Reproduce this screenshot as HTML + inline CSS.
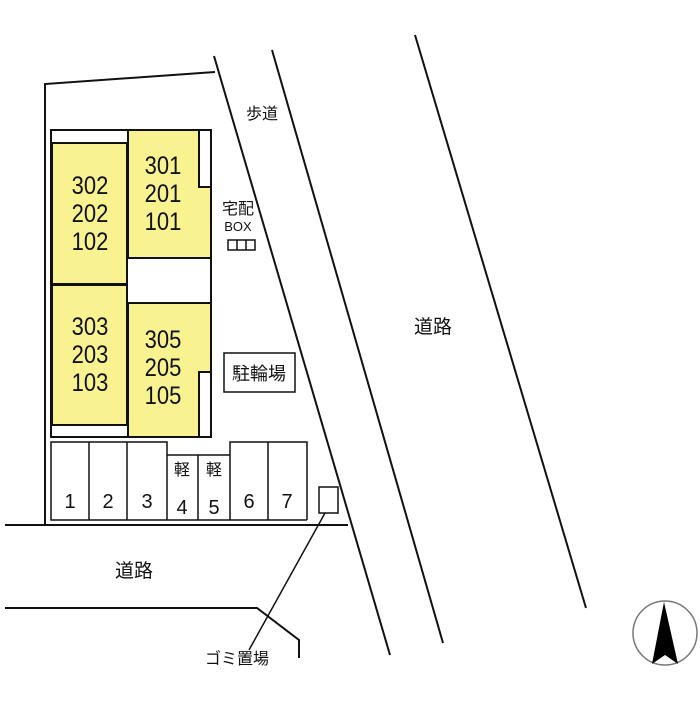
<!DOCTYPE html>
<html><head><meta charset="utf-8"><style>
body{margin:0;background:#fff}
svg text{font-family:"Liberation Sans","Noto Sans CJK JP",sans-serif;fill:#111}
</style></head><body>
<svg width="700" height="700" viewBox="0 0 700 700" xmlns="http://www.w3.org/2000/svg">
<g stroke="#111" stroke-width="2" fill="none">
<polyline points="45,525 45,84 215,72"/>
<line x1="214" y1="56" x2="390" y2="655"/>
<line x1="272" y1="50" x2="443" y2="643"/>
<line x1="415" y1="35" x2="586" y2="608"/>
<line x1="5" y1="525" x2="348" y2="525"/>
<polyline points="5,608 257,608 299,640 299,658"/>
<line x1="325" y1="513" x2="249" y2="650" stroke-width="1.5"/>
</g>
<rect x="51" y="130" width="160" height="307" fill="#fff" stroke="#111" stroke-width="2"/>
<rect x="52" y="143" width="75" height="141" fill="#f8f291" stroke="#111" stroke-width="2"/>
<rect x="52" y="285" width="75" height="140" fill="#f8f291" stroke="#111" stroke-width="2"/>
<polygon points="128,130 199,130 199,187 211,187 211,258 128,258" fill="#f8f291" stroke="#111" stroke-width="2"/>
<polygon points="128,303 211,303 211,372 199,372 199,437 128,437" fill="#f8f291" stroke="#111" stroke-width="2"/>
<line x1="52" y1="425" x2="128" y2="425" stroke="#111" stroke-width="2"/>
<g font-size="25" text-anchor="middle">
<g transform="translate(90,0) scale(0.88,1)">
<text x="0" y="194">302</text><text x="0" y="222">202</text><text x="0" y="250">102</text>
<text x="0" y="335">303</text><text x="0" y="363">203</text><text x="0" y="391">103</text>
</g>
<g transform="translate(163,0) scale(0.88,1)">
<text x="0" y="174">301</text><text x="0" y="202">201</text><text x="0" y="230">101</text>
<text x="0" y="348">305</text><text x="0" y="376">205</text><text x="0" y="404">105</text>
</g>
</g>
<g stroke="#111" stroke-width="1.5" fill="none">
<polyline points="167,520 51,520 51,442 167,442 167,520"/>
<line x1="89" y1="442" x2="89" y2="520"/><line x1="127" y1="442" x2="127" y2="520"/>
<polyline points="167,455 230,455"/><line x1="198" y1="455" x2="198" y2="520"/>
<line x1="167" y1="520" x2="307" y2="520"/>
<polyline points="230,520 230,442 307,442 307,520"/>
<line x1="268" y1="442" x2="268" y2="520"/>
<rect x="319" y="487" width="19" height="26"/>
<rect x="224" y="353" width="71" height="39"/>
<rect x="228" y="240" width="27" height="10"/>
<line x1="237" y1="240" x2="237" y2="250"/><line x1="246" y1="240" x2="246" y2="250"/>
</g>
<g font-size="20" text-anchor="middle">
<text x="70" y="508">1</text><text x="108" y="508">2</text><text x="147" y="508">3</text>
<text x="182" y="514">4</text><text x="214" y="514">5</text>
<text x="249" y="508">6</text><text x="287" y="508">7</text>
</g>
<g font-size="16" text-anchor="middle">
<text x="182" y="475">軽</text><text x="214" y="475">軽</text>
<text x="238" y="214">宅配</text>
<text x="262" y="119">歩道</text>
<text x="259" y="380" font-size="18">駐輪場</text>
<text x="237" y="664">ゴミ置場</text>
</g>
<text x="238" y="231" font-size="13" text-anchor="middle">BOX</text>
<g font-size="19" text-anchor="middle">
<text x="433" y="333">道路</text>
<text x="134" y="577">道路</text>
</g>
<circle cx="665" cy="633" r="32" fill="none" stroke="#777" stroke-width="1.5"/>
<polygon points="664,602 652,664 665,655 678,664" fill="#000"/>
</svg>
</body></html>
